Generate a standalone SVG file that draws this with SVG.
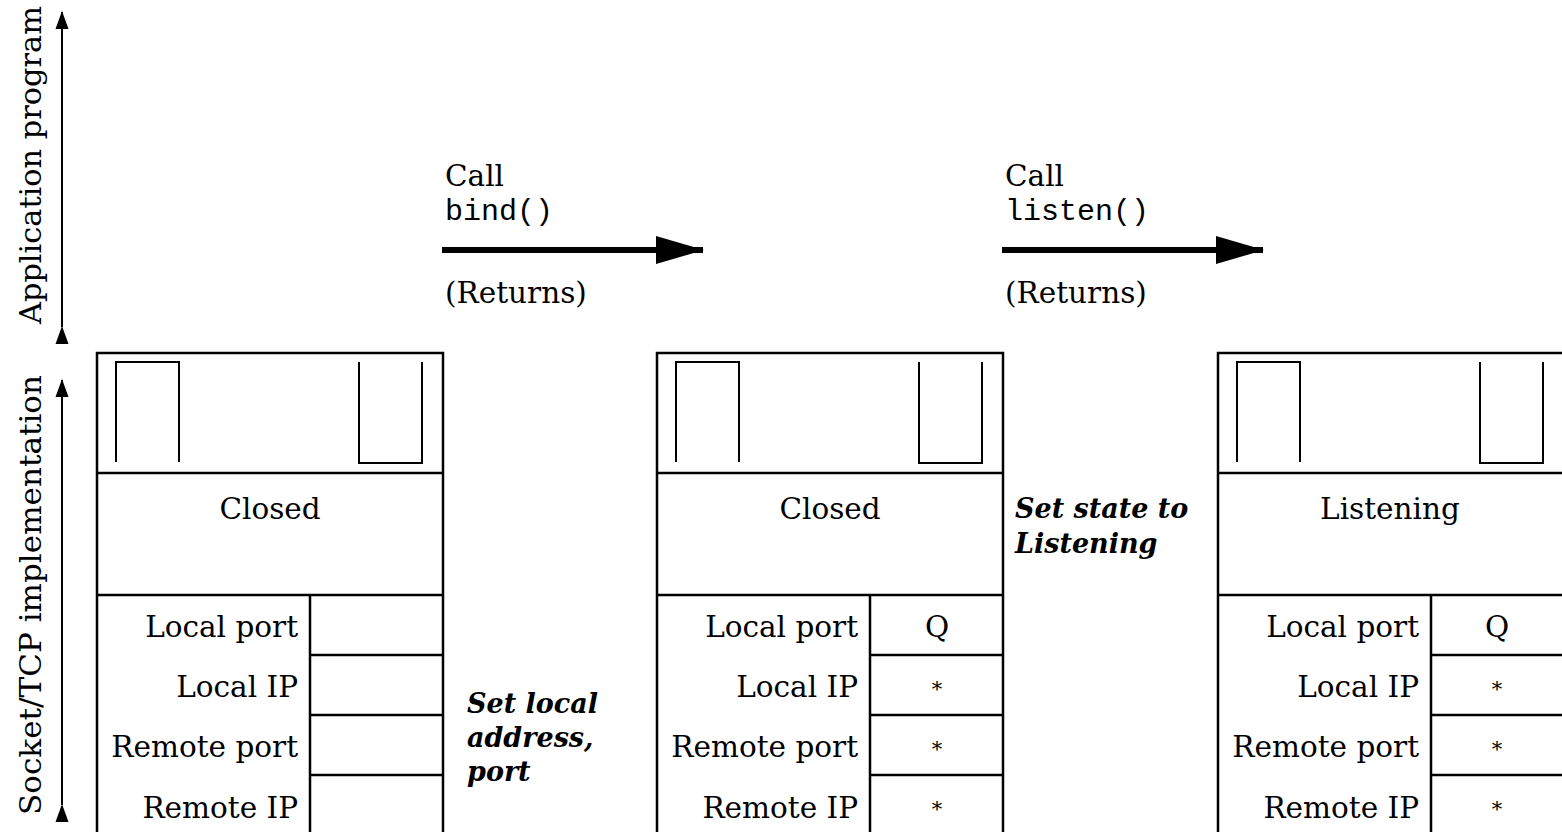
<svg xmlns="http://www.w3.org/2000/svg" width="1562" height="832" viewBox="0 0 1562 832">
<style>
.ln{fill:none;stroke:#000;stroke-width:2.5}
.thin{fill:none;stroke:#000;stroke-width:2}
.t{font-family:"DejaVu Serif","Liberation Serif",serif;font-size:29.5px;fill:#000}
.r{text-anchor:end}
.c{text-anchor:middle}
.m{font-family:"Liberation Mono","DejaVu Sans Mono",monospace;font-size:30px;fill:#000}
.bi{font-family:"DejaVu Serif","Liberation Serif",serif;font-size:27px;font-weight:bold;font-style:italic;fill:#000}
.star{font-family:"DejaVu Serif",serif;font-size:21px;fill:#000;text-anchor:middle}
</style>
<defs>
<marker id="sh" markerWidth="18" markerHeight="14" refX="17" refY="7" orient="auto" markerUnits="userSpaceOnUse">
<path d="M0,0.5 L18,7 L0,13.5 Z" fill="#000"/>
</marker>
<marker id="big" markerWidth="48" markerHeight="32" refX="47" refY="16" orient="auto" markerUnits="userSpaceOnUse">
<path d="M0,2 L48,16 L0,30 Z" fill="#000"/>
</marker>
<g id="sock">
<rect x="0" y="0" width="346" height="500" class="ln"/>
<line x1="0" y1="120" x2="346" y2="120" class="ln"/>
<line x1="0" y1="242" x2="346" y2="242" class="ln"/>
<line x1="213" y1="242" x2="213" y2="500" class="ln"/>
<line x1="213" y1="302" x2="346" y2="302" class="ln"/>
<line x1="213" y1="362" x2="346" y2="362" class="ln"/>
<line x1="213" y1="422" x2="346" y2="422" class="ln"/>
<path d="M19,109 V9 H82 V109" class="thin"/>
<path d="M262,9 V110 H325 V9" class="thin"/>
<text x="201" y="284" class="t r">Local port</text>
<text x="201" y="344" class="t r">Local IP</text>
<text x="201" y="404" class="t r">Remote port</text>
<text x="201" y="465" class="t r">Remote IP</text>
</g>
</defs>

<g id="axis-app">
<line x1="62" y1="327" x2="62" y2="12" class="thin" marker-start="url(#sh)" marker-end="url(#sh)"/>
<text transform="translate(41,165) rotate(-90)" class="t c" textLength="318" lengthAdjust="spacingAndGlyphs">Application program</text>
</g>
<g id="axis-sock">
<line x1="62" y1="805" x2="62" y2="380" class="thin" marker-start="url(#sh)" marker-end="url(#sh)"/>
<text transform="translate(41,595) rotate(-90)" class="t c" textLength="440" lengthAdjust="spacingAndGlyphs">Socket/TCP implementation</text>
</g>

<g id="socket1">
<use href="#sock" x="97" y="353"/>
<text x="270" y="519" class="t c">Closed</text>
</g>
<g id="socket2">
<use href="#sock" x="657" y="353"/>
<text x="830" y="519" class="t c">Closed</text>
<text x="937" y="637" class="t c">Q</text>
<text x="937" y="696" class="star">*</text>
<text x="937" y="756" class="star">*</text>
<text x="937" y="816" class="star">*</text>
</g>
<g id="socket3">
<use href="#sock" x="1218" y="353"/>
<text x="1390" y="519" class="t c">Listening</text>
<text x="1497" y="637" class="t c">Q</text>
<text x="1497" y="696" class="star">*</text>
<text x="1497" y="756" class="star">*</text>
<text x="1497" y="816" class="star">*</text>
</g>

<g id="connectors">
<line x1="442" y1="250" x2="703" y2="250" stroke="#000" stroke-width="6" marker-end="url(#big)"/>
<line x1="1002" y1="250" x2="1263" y2="250" stroke="#000" stroke-width="6" marker-end="url(#big)"/>
</g>

<g id="labels">
<text x="445" y="186" class="t">Call</text>
<text x="445" y="220" class="m">bind()</text>
<text x="445" y="303" class="t">(Returns)</text>
<text x="1005" y="186" class="t">Call</text>
<text x="1005" y="220" class="m">listen()</text>
<text x="1005" y="303" class="t">(Returns)</text>
<text x="467" y="713" class="bi">Set local</text>
<text x="467" y="747" class="bi">address,</text>
<text x="467" y="781" class="bi">port</text>
<text x="1015" y="518" class="bi">Set state to</text>
<text x="1015" y="553" class="bi">Listening</text>
</g>
</svg>
